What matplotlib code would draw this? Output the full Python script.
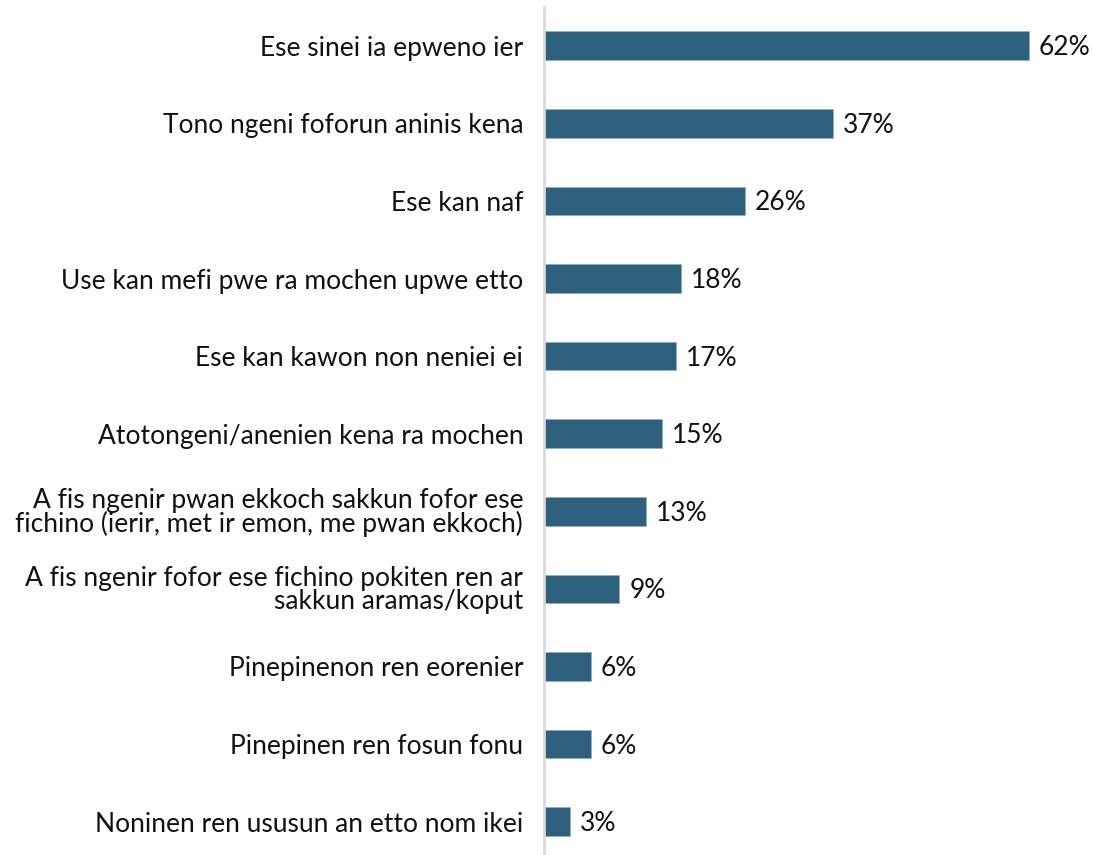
import matplotlib
matplotlib.use("Agg")
import matplotlib.pyplot as plt

plt.rcParams['font.family'] = ['Lato', 'DejaVu Sans']

categories = [
    "Ese sinei ia epweno ier",
    "Tono ngeni foforun aninis kena",
    "Ese kan naf",
    "Use kan mefi pwe ra mochen upwe etto",
    "Ese kan kawon non neniei ei",
    "Atotongeni/anenien kena ra mochen",
    "A fis ngenir pwan ekkoch sakkun fofor ese\nfichino (ierir, met ir emon, me pwan ekkoch)",
    "A fis ngenir fofor ese fichino pokiten ren ar\nsakkun aramas/koput",
    "Pinepinenon ren eorenier",
    "Pinepinen ren fosun fonu",
    "Noninen ren ususun an etto nom ikei",
]
values = [61.9, 36.9, 25.7, 17.5, 16.9, 15.1, 13.0, 9.6, 6.0, 6.0, 3.3]
value_labels = ["62%", "37%", "26%", "18%", "17%", "15%", "13%", "9%", "6%", "6%", "3%"]

bar_color = "#2e5f7c"

fig = plt.figure(figsize=(10.93, 8.55), dpi=100)
ax = fig.add_axes([544/1093, 0, 1 - 544/1093, (855-7)/855])

y = list(range(len(categories)))
ax.barh(y, values, height=0.37, color=bar_color, edgecolor="#8fb0c4", linewidth=0.6)

for yi, v, lab in zip(y, values, value_labels):
    ax.annotate(lab, (v, yi), xytext=(10, -2), textcoords="offset pixels",
                ha="left", va="center", fontsize=19, color="#111111")

ax.set_xlim(0, (1093-544)/7.83)
ax.set_ylim(10.43, -0.5)
ax.set_yticks(y)
ax.set_yticklabels(categories, fontsize=19, color="#111111", linespacing=0.9)
ax.tick_params(axis='y', length=0, pad=15)
ax.set_xticks([])

for s in ["top", "right", "bottom"]:
    ax.spines[s].set_visible(False)
ax.spines["left"].set_color("#d9d9d9")
ax.spines["left"].set_linewidth(2)

fig.savefig("out.png", dpi=100)
